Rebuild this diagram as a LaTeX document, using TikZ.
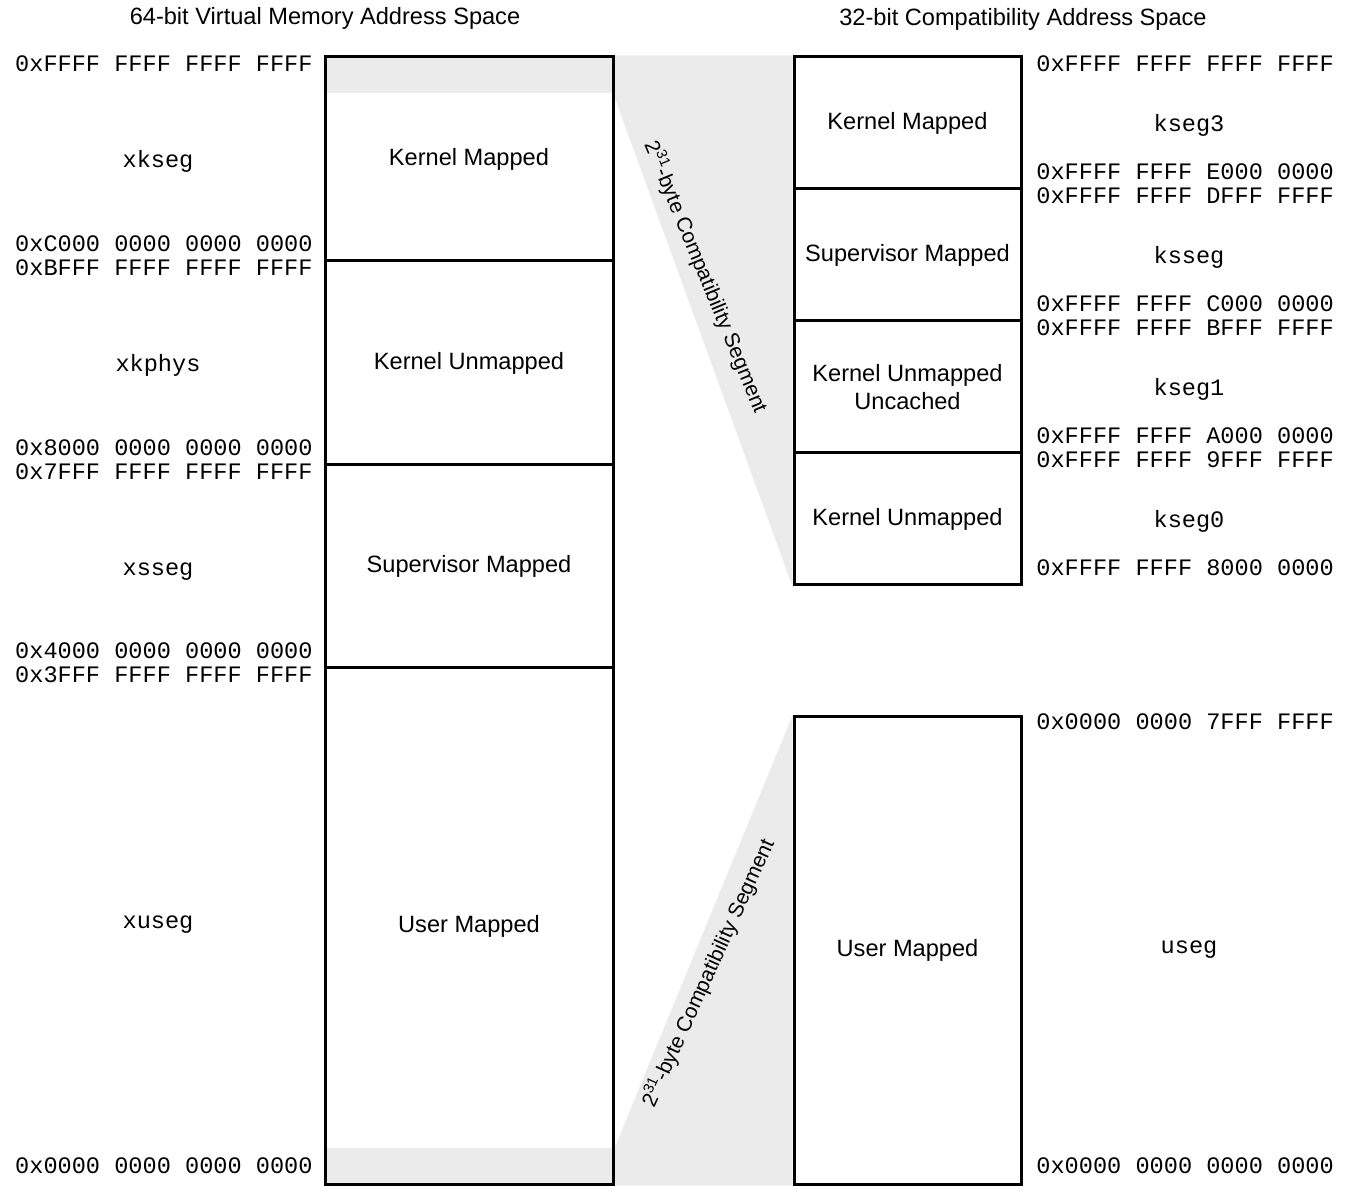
\documentclass[tikz,border=0pt]{standalone}
\usepackage{fontspec}
\setmainfont{Liberation Sans}
\setmonofont{Liberation Mono}
\usetikzlibrary{backgrounds}

\begin{document}
\begin{tikzpicture}[
        x=0.5pt, y=-0.5pt,
        font=\fontsize{11.8}{14}\selectfont,
        seg/.style={
            draw,
            line width=1.5pt,
            minimum width=#1,
            align=center,
            inner sep=0pt
        },
        lseg/.style={seg=144pt},
        rseg/.style={seg=113.5pt},
        addr/.style={font=\fontsize{11.8}{14}\selectfont\ttfamily, inner sep=0pt, text height=1.5ex, text depth=0.3ex},
        laddr/.style={addr, anchor=east},
        raddr/.style={addr, anchor=west},
        segname/.style={addr},
        compat/.style={font=\fontsize{10.5}{12}\selectfont, inner sep=0pt},
        band/.style={fill=black!8, draw=none}
    ]
        \useasboundingbox (0,0) rectangle (1350,1186);

        \node (title64) at (325,18) {64-bit Virtual Memory Address Space};
        \node (title32) at (1023,19) {32-bit Compatibility Address Space};

        \node[lseg, minimum height=102pt] (lkmapped) at (469,159) {Kernel Mapped};
        \node[lseg, minimum height=102pt] (lkunmapped) at (469,363) {Kernel Unmapped};
        \node[lseg, minimum height=101.5pt] (lsmapped) at (469,566.5) {Supervisor Mapped};
        \node[lseg, minimum height=258pt] (lumapped) at (469,926) {User Mapped};

        \node[rseg, minimum height=66pt] (rkmapped) at (907.5,123) {Kernel Mapped};
        \node[rseg, minimum height=66pt] (rsmapped) at (907.5,255) {Supervisor Mapped};
        \node[rseg, minimum height=66pt] (rkuncached) at (907.5,387) {Kernel Unmapped\\Uncached};
        \node[rseg, minimum height=66pt] (rkunmapped) at (907.5,519) {Kernel Unmapped};
        \node[rseg, minimum height=233.5pt] (rumapped) at (907.5,950.5) {User Mapped};

        \coordinate (topband) at (613,93);
        \coordinate (botband) at (325,1148);
        \begin{scope}[on background layer]
            \fill[band] (lkmapped.north west) rectangle (topband);
            \fill[band] (botband) rectangle (lumapped.south east);
            \fill[band] (lkmapped.north east) -- (rkmapped.north west) -- (rkunmapped.south west) -- (topband) -- cycle;
            \fill[band] (lumapped.south east |- botband) -- (rumapped.north west) -- (rumapped.south west) -- (lumapped.south east) -- cycle;
        \end{scope}

        \node[compat, rotate=-67.6] (compattop) at (706,277) {2\textsuperscript{31}-byte Compatibility Segment};
        \node[compat, rotate=65.6] (compatbot) at (708,973) {2\textsuperscript{31}-byte Compatibility Segment};

        \node[laddr] (a64ffff) at (313,65) {0xFFFF FFFF FFFF FFFF};
        \node[laddr] (a64c000) at (313,245) {0xC000 0000 0000 0000};
        \node[laddr] (a64bfff) at (313,269) {0xBFFF FFFF FFFF FFFF};
        \node[laddr] (a648000) at (313,449) {0x8000 0000 0000 0000};
        \node[laddr] (a647fff) at (313,473) {0x7FFF FFFF FFFF FFFF};
        \node[laddr] (a644000) at (313,652) {0x4000 0000 0000 0000};
        \node[laddr] (a643fff) at (313,676) {0x3FFF FFFF FFFF FFFF};
        \node[laddr] (a640000) at (313,1167) {0x0000 0000 0000 0000};

        \node[segname] (xkseg) at (158,161) {xkseg};
        \node[segname] (xkphys) at (158,365) {xkphys};
        \node[segname] (xsseg) at (158,569) {xsseg};
        \node[segname] (xuseg) at (158,922) {xuseg};

        \node[raddr] (a32ffff) at (1036,65) {0xFFFF FFFF FFFF FFFF};
        \node[raddr] (a32e000) at (1036,173) {0xFFFF FFFF E000 0000};
        \node[raddr] (a32dfff) at (1036,197) {0xFFFF FFFF DFFF FFFF};
        \node[raddr] (a32c000) at (1036,305) {0xFFFF FFFF C000 0000};
        \node[raddr] (a32bfff) at (1036,329) {0xFFFF FFFF BFFF FFFF};
        \node[raddr] (a32a000) at (1036,437) {0xFFFF FFFF A000 0000};
        \node[raddr] (a329fff) at (1036,461) {0xFFFF FFFF 9FFF FFFF};
        \node[raddr] (a328000) at (1036,569) {0xFFFF FFFF 8000 0000};
        \node[raddr] (a327fff) at (1036,723) {0x0000 0000 7FFF FFFF};
        \node[raddr] (a320000) at (1036,1167) {0x0000 0000 0000 0000};

        \node[segname] (kseg3) at (1189,125) {kseg3};
        \node[segname] (ksseg) at (1189,257) {ksseg};
        \node[segname] (kseg1) at (1189,389) {kseg1};
        \node[segname] (kseg0) at (1189,521) {kseg0};
        \node[segname] (useg) at (1189,947) {useg};
    \end{tikzpicture}
\end{document}
